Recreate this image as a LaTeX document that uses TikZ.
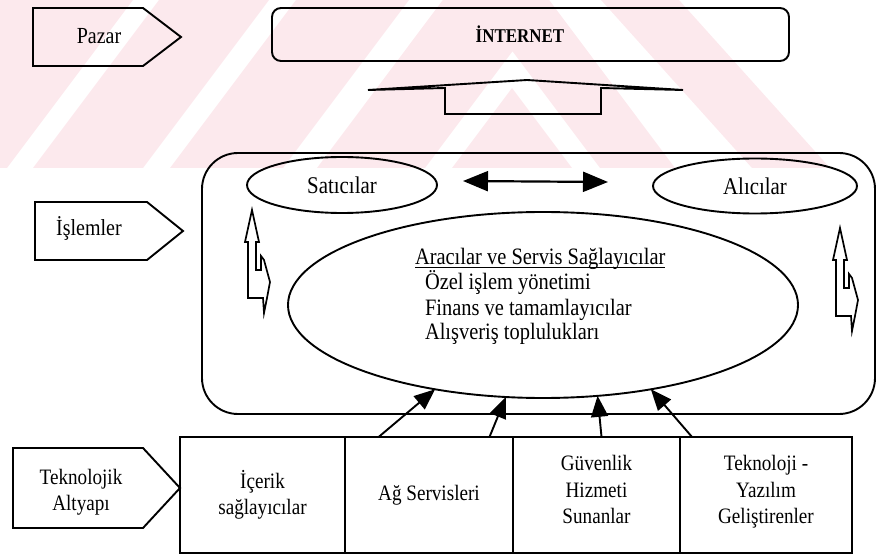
\documentclass[tikz,border=0pt]{standalone}
\usepackage{fontspec}
\setmainfont[FakeStretch=0.87]{Liberation Serif}
\usetikzlibrary{shapes.geometric,arrows.meta,calc}
\definecolor{wmpink}{RGB}{252,233,237}

\begin{document}
\begin{tikzpicture}[x=1pt,y=-1pt,line width=1.9pt,
  lbl/.style={inner sep=0pt,outer sep=0pt,font=\fontsize{23}{26}\selectfont},
  lblsmall/.style={inner sep=0pt,outer sep=0pt,align=center,font=\fontsize{22}{26.5}\selectfont},
  ell/.style={ellipse,draw,inner sep=0pt,outer sep=0pt,font=\fontsize{24}{26}\selectfont},
  listtext/.style={inner sep=0pt,outer sep=0pt,font=\fontsize{23.5}{25}\selectfont},
  cell/.style={rectangle,draw,minimum height=116pt,inner sep=0pt,outer sep=0pt,
    align=center,font=\fontsize{22}{26.5}\selectfont},
  dblarrow/.style={line width=2.2pt,{Triangle[length=25pt,width=20pt]}-{Triangle[length=25pt,width=20pt]}},
  feed/.style={line width=1.9pt,-{Triangle[length=21pt,width=17pt]}},
  vpair/.pic={\draw[line width=1.7pt,line join=miter]
    (-4,88) -- (-4,32) -- (-7,32) -- (0,0) -- (7,32) -- (4,32) -- (4,60) -- (9,60)
    -- (9,46) -- (12,50) -- (18,72) -- (15,88) -- (12,103) -- (11,88) -- cycle;}]
\useasboundingbox (0,0) rectangle (881,556);

% pale background band with diagonal stripes
\begin{scope}
  \clip (0,0) rectangle (881,168);
  \fill[wmpink] (-200,168) -- (7,168) -- (133,0) -- (-74,0) -- cycle;
  \fill[wmpink] (33,168) -- (143,168) -- (269,0) -- (159,0) -- cycle;
  \fill[wmpink] (170,168) -- (283,168) -- (409,0) -- (296,0) -- cycle;
  \fill[wmpink] (317,168) -- (496,-71) -- (675,168) -- (600,168) -- (512.5,51.3) -- (425,168) -- cycle;
  \fill[wmpink] (452,168) -- (512,88) -- (572,168) -- cycle;
  \fill[wmpink] (752,168) -- (830,168) -- (679,0) -- (601,0) -- cycle;
\end{scope}

% market level
\draw (33,8) -- (143,8) -- (181,37) -- (143,66) -- (33,66) -- cycle;
\node[lbl] (pazar) at (99,36) {Pazar};
\node[draw,rounded corners=9pt,minimum width=517pt,minimum height=53pt,
  inner sep=0pt,outer sep=0pt] (net) at (530.5,34.5) {};
\node[inner sep=0pt,font=\fontsize{19.5}{22}\selectfont\bfseries] (nettext) at (520,34) {İNTERNET};

% wide hollow arrow towards the internet
\draw (368,90) -- (527,80) -- (683,90) -- (601,88) -- (601,114) -- (445,114) -- (445,88) -- cycle;

% transactions level
\draw (35,202) -- (147,202) -- (183,231) -- (147,260) -- (35,260) -- cycle;
\node[lbl] (islem) at (89,228) {İşlemler};
\node[draw,rounded corners=36pt,minimum width=673pt,minimum height=261pt,
  inner sep=0pt,outer sep=0pt] (trans) at (538.5,283.5) {};

\node[ell,minimum width=190pt,minimum height=56pt] (sat) at (342,185) {Satıcılar};
\node[ell,minimum width=204pt,minimum height=55pt] (ali) at (755,186) {Alıcılar};
\draw[dblarrow] ([xshift=26pt,yshift=4pt]sat.east) -- ([xshift=-45pt,yshift=4pt]ali.west);

\node[ellipse,draw,minimum width=510pt,minimum height=186pt,inner sep=0pt,outer sep=0pt] (mid) at (543,305) {};
\node[listtext,anchor=base west] (midhead) at (415,265) {Aracılar ve Servis Sağlayıcılar};
\draw[line width=1.2pt] ([yshift=-2.5pt]midhead.base west) -- ([yshift=-2.5pt]midhead.base east);
\node[listtext,anchor=base west] (l1) at (425,290) {Özel işlem yönetimi};
\node[listtext,anchor=base west] (l2) at (425,315) {Finans ve tamamlayıcılar};
\node[listtext,anchor=base west] (l3) at (425,339) {Alışveriş toplulukları};

\pic at (252,210) {vpair};
\begin{scope}[shift={(840,228)},xscale=-1,yscale=1.06]
  \pic {vpair};
\end{scope}

% technology level
\draw (13,448) -- (143,448) -- (180,488) -- (143,528) -- (13,528) -- cycle;
\node[lblsmall] (tek) at (81,492) {Teknolojik\\Altyapı};
\node[cell,minimum width=165pt] (b1) at (262.5,495) {İçerik\\sağlayıcılar};
\node[cell,minimum width=168pt] (b2) at (429,495) {Ağ Servisleri};
\node[cell,minimum width=167pt] (b3) at (596.5,495) {Güvenlik\\Hizmeti\\Sunanlar\\[-16pt]};
\node[cell,minimum width=172pt] (b4) at (766,495) {Teknoloji -\\Yazılım\\Geliştirenler\\[-16pt]};

\draw[feed] ($(b2.north west)!0.2!(b2.north east)$) -- (mid.-142.6);
\draw[feed] ($(b2.north west)!0.86!(b2.north east)$) -- (mid.-112.4);
\draw[feed] ($(b3.north west)!0.53!(b3.north east)$) -- (mid.-59.3);
\draw[feed] ($(b4.north west)!0.07!(b4.north east)$) -- (mid.-38.1);
\end{tikzpicture}
\end{document}
